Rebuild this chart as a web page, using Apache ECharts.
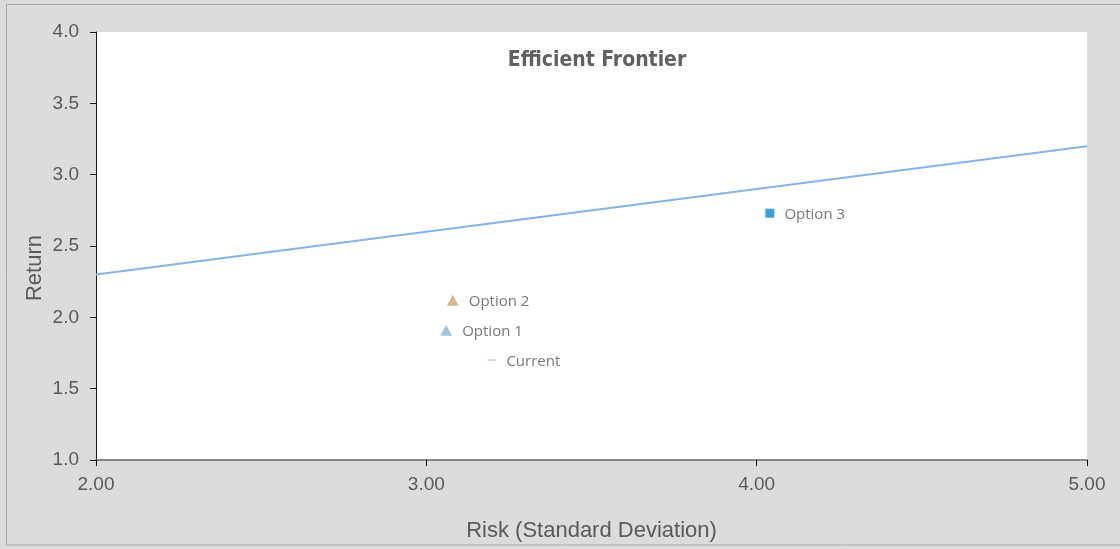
<!DOCTYPE html>
<html>
<head>
<meta charset="utf-8">
<script src="https://cdn.jsdelivr.net/npm/echarts@6/dist/echarts.min.js"></script>
<style>
  html, body { margin: 0; padding: 0; background: #dcdcdc; }
  #chart { width: 1120px; height: 549px; }
</style>
</head>
<body>
<div id="chart"></div>
<script>
// Efficient frontier: straight line from the low-risk end to the high-risk end
const frontierRisk = [2.0, 5.0];
const frontierReturn = [2.3, 3.2];

// Portfolio options (risk = standard deviation, return)
const optionNames = ['Option 3', 'Option 2', 'Option 1', 'Current'];
const optionRisk = [4.04, 3.08, 3.06, 3.20];
const optionReturn = [2.73, 2.12, 1.91, 1.70];
const optionColors = ['#0b88c8', '#c9a674', '#8bb4d8', '#b9d6f0'];
const optionSymbols = ['rect', 'triangle', 'triangle', 'rect'];
const optionSizes = [[9, 9], [12, 11], [12, 11], [8, 2]];

// Axis ticks
const xTicks = [2.0, 3.0, 4.0, 5.0];
const yTicks = [1.0, 1.5, 2.0, 2.5, 3.0, 3.5, 4.0];

const chart = echarts.init(document.getElementById('chart'), null, { renderer: 'canvas' });

const labelFont = "'Open Sans', 'Liberation Sans', sans-serif";
const axisFont = "'Liberation Sans', Arial, sans-serif";

const series = [{
  name: 'Efficient Frontier',
  type: 'line',
  data: frontierRisk.map((x, i) => [x, frontierReturn[i]]),
  showSymbol: false,
  symbol: 'none',
  lineStyle: { color: '#85b3e3', width: 2 },
  silent: true,
  z: 1
}];

optionNames.forEach((name, i) => {
  series.push({
    name: name,
    type: 'scatter',
    data: [[optionRisk[i], optionReturn[i]]],
    symbol: optionSymbols[i],
    symbolSize: optionSizes[i],
    itemStyle: { color: optionColors[i] },
    label: {
      show: true,
      position: 'right',
      distance: 10,
      offset: [0, 2],
      formatter: name,
      color: '#555555',
      fontSize: 15,
      fontFamily: labelFont
    },
    z: 3
  });
});

chart.setOption({
  backgroundColor: '#dcdcdc',
  animation: false,
  title: {
    text: 'Efficient Frontier',
    left: 592,
    top: 45,
    textAlign: 'center',
    textStyle: {
      fontFamily: "'Liberation Sans Narrow', 'DejaVu Sans Condensed', sans-serif",
      fontWeight: 'bold',
      fontSize: 21,
      color: '#606060'
    }
  },
  graphic: [{
    type: 'rect',
    shape: { x: 6.5, y: 4.5, width: 1120, height: 540.5 },
    style: { fill: null, stroke: '#a8a8a8', lineWidth: 1 },
    silent: true,
    z: -1
  }],
  grid: {
    left: 96,
    top: 32,
    right: 33,
    bottom: 89,
    show: true,
    backgroundColor: '#ffffff',
    borderWidth: 0
  },
  xAxis: {
    type: 'value',
    min: xTicks[0],
    max: xTicks[xTicks.length - 1],
    interval: 1,
    name: 'Risk (Standard Deviation)',
    nameLocation: 'middle',
    nameGap: 60,
    nameMoveOverlap: false,
    nameTextStyle: { fontFamily: axisFont, fontSize: 22, color: '#595959' },
    axisLine: { show: true, onZero: false, lineStyle: { color: '#868686', width: 2 } },
    axisTick: { show: true, inside: false, length: 6, lineStyle: { color: '#000000' } },
    axisLabel: {
      margin: 15,
      fontFamily: axisFont,
      fontSize: 19,
      color: '#595959',
      formatter: v => v.toFixed(2)
    },
    splitLine: { show: false }
  },
  yAxis: {
    type: 'value',
    min: yTicks[0],
    max: yTicks[yTicks.length - 1],
    interval: 0.5,
    name: 'Return',
    nameLocation: 'middle',
    nameGap: 50,
    nameMoveOverlap: false,
    nameTextStyle: { fontFamily: axisFont, fontSize: 22, color: '#595959', padding: [0, 44, 0, 0] },
    axisLine: { show: true, onZero: false, lineStyle: { color: '#1a1a1a', width: 1 } },
    axisTick: { show: true, inside: false, length: 6, lineStyle: { color: '#1a1a1a' } },
    axisLabel: {
      margin: 17,
      fontFamily: axisFont,
      fontSize: 19,
      color: '#595959',
      formatter: v => v.toFixed(1)
    },
    splitLine: { show: false }
  },
  series: series
});
</script>
</body>
</html>
